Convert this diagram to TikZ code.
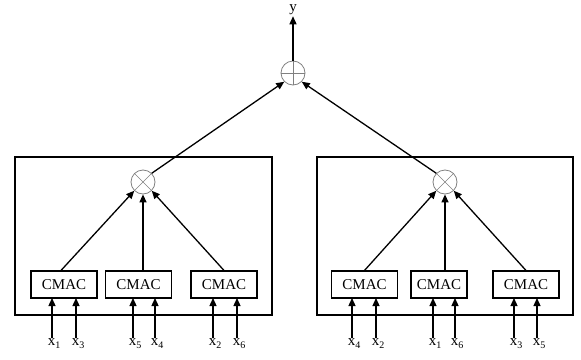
\documentclass[tikz,border=0pt]{standalone}
\usepackage{fontspec}
\setmainfont{Liberation Serif}
\usetikzlibrary{arrows.meta}
\begin{document}
\begin{tikzpicture}[x=1pt,y=-1pt,
  font=\fontsize{15}{17}\selectfont,
  frame/.style={draw,line width=1.1pt},
  cmac/.style={draw,line width=1.1pt,minimum width=66pt,minimum height=27pt,inner sep=0pt},
  op/.style={circle,draw=gray,line width=0.8pt,minimum size=24pt,inner sep=0pt},
  arr/.style={-{Triangle[length=8pt,width=7pt]},line width=1.3pt},
  lbl/.style={inner sep=0pt,anchor=north}]
\useasboundingbox (0,0) rectangle (581,359);
% outer blocks
\draw[frame] (15,157) rectangle (272,315);
\draw[frame] (317,157) rectangle (573,315);
% summing node and output
\node[op] (sum) at (293,73) {};
\draw[gray,line width=0.6pt] (sum.north) -- (sum.south) (sum.west) -- (sum.east);
\node[inner sep=1pt] (y) at (293,10) {y};
\draw[arr] (sum.north) -- (y.south);
% product nodes
\node[op] (pl) at (143,182) {};
\node[op] (pr) at (445,182) {};
\draw[gray,line width=0.6pt] (pl.north west) -- (pl.south east) (pl.north east) -- (pl.south west);
\draw[gray,line width=0.6pt] (pr.north west) -- (pr.south east) (pr.north east) -- (pr.south west);
\draw[arr] (pl.north east) -- (sum.south west);
\draw[arr] (pr.north west) -- (sum.south east);
% CMAC modules
\node[cmac] (c1) at (64,284.5) {CMAC};
\node[cmac] (c2) at (138.5,284.5) {CMAC};
\node[cmac] (c3) at (224,284.5) {CMAC};
\node[cmac] (c4) at (364.5,284.5) {CMAC};
\node[cmac, minimum width=56pt] (c5) at (439,284.5) {CMAC};
\node[cmac] (c6) at (526,284.5) {CMAC};
\draw[arr] ([xshift=-3pt]c1.north) -- (pl.south west);
\draw[arr] (pl.south |- c2.north) -- (pl.south);
\draw[arr] (c3.north) -- (pl.south east);
\draw[arr] (c4.north) -- (pr.south west);
\draw[arr] (pr.south |- c5.north) -- (pr.south);
\draw[arr] (c6.north) -- (pr.south east);
% inputs
\foreach \n/\x/\s in {i1/52/1, i2/76/3, i3/133/5, i4/155/4, i5/213/2, i6/237/6,
                      i7/352/4, i8/376/2, i9/433/1, i10/455/6, i11/514/3, i12/537/5}{
  \node[lbl] (\n) at (\x+2,338) {x\raisebox{-3.5pt}{\fontsize{10}{10}\selectfont\s}};
  \coordinate (\n t) at (\x,298);
  \draw[arr] (\x,338) -- (\n t);
}
\end{tikzpicture}
\end{document}
